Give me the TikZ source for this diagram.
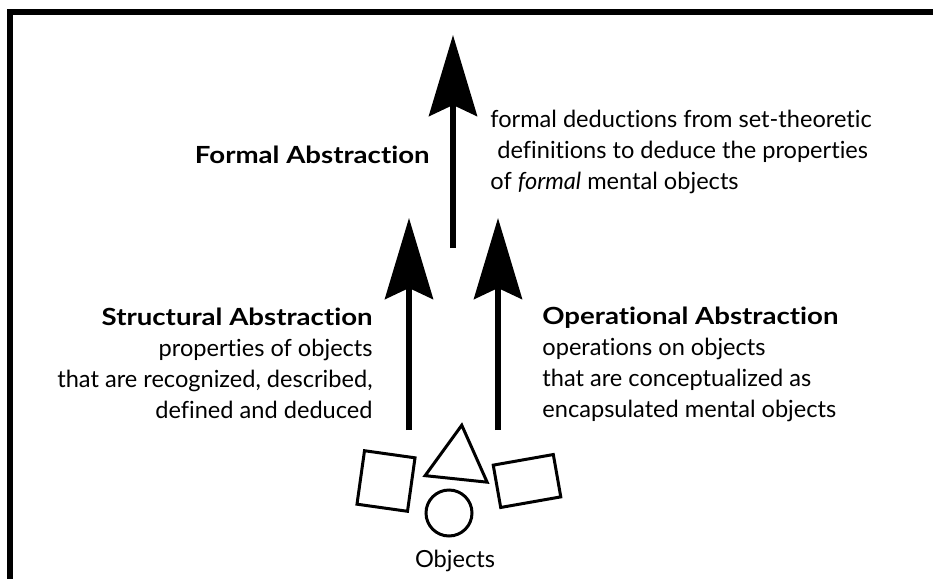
\documentclass[tikz,border=0pt]{standalone}
\usepackage{fontspec}
\setmainfont{Lato}[Ligatures=CommonOff,BoldFeatures={FakeStretch=1.17}]
\usetikzlibrary{arrows.meta,shapes.geometric}

\tikzset{every picture/.style={line width=0.75pt}}
\tikzset{
	bigarrow/.style={-{Stealth[length=81pt,width=48pt,inset=11pt]},line width=6pt},
	shp/.style={draw,line width=3pt,inner sep=0pt},
	txt/.style={font=\fontsize{23.6}{31}\selectfont,inner sep=0pt},
	ttl/.style={font=\fontsize{23.6}{31}\selectfont\bfseries,inner sep=0pt},
}

\begin{document}
\begin{tikzpicture}[x=1pt,y=-1pt]
				\useasboundingbox (0,0) rectangle (933,578);
				\draw[line width=5.5pt] (10,580)--(10,12)--(935,12); %枠
				% 矢印
				\coordinate (cbot) at (453,248); \coordinate (ctop) at (453,35);
				\coordinate (lbot) at (409,430); \coordinate (ltop) at (409,218);
				\coordinate (rbot) at (498,430); \coordinate (rtop) at (498,218);
				\draw[bigarrow] (cbot)--(ctop); %中央
				\draw[bigarrow] (lbot)--(ltop); %左
				\draw[bigarrow] (rbot)--(rtop); %右
				% 説明文
				\node[ttl,anchor=base east] (formal) at (430,163) {Formal Abstraction};
				\node[txt,anchor=base west,align=left] (formaltxt) at (490,189)
					{formal deductions from set-theoretic\\\hspace*{7pt}definitions to deduce the properties\\of \textit{formal} mental objects};
				\node[txt,anchor=base east,align=right] (structural) at (373,418)
					{\bfseries Structural Abstraction\\properties of objects\\that are recognized, described,\\defined and deduced};
				\node[txt,anchor=base west,align=left] (operational) at (542,417)
					{\bfseries Operational Abstraction\\operations on objects\\that are conceptualized as\\encapsulated mental objects};
				% 対象
				\node[shp,minimum width=51pt,minimum height=54pt,rotate=-8] (sqleft) at (386,481) {};
				\node[shp,regular polygon,regular polygon sides=3,minimum size=72pt,rotate=-6] (tri) at (458,461) {};
				\node[shp,circle,minimum size=46pt] (circ) at (449,513) {};
				\node[shp,minimum width=61pt,minimum height=43pt,rotate=10] (rectright) at (527,481) {};
				\node[txt] (objlabel) at (455,561) {Objects};
			\end{tikzpicture}
\end{document}
